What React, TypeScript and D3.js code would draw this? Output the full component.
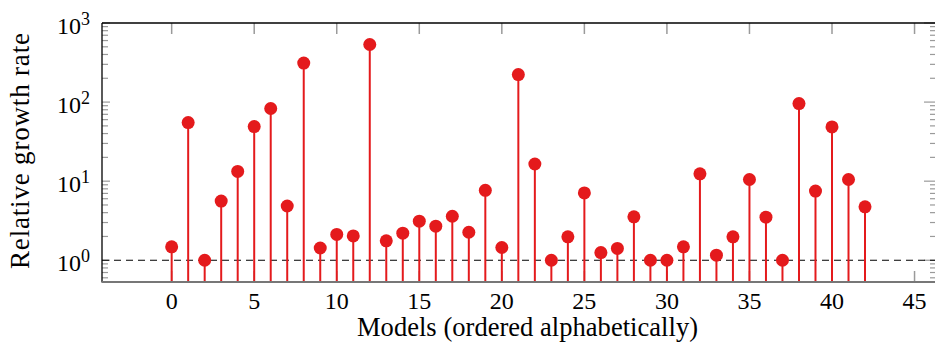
import React from 'react';
import * as d3 from 'd3';

// relative growth rate per model, index = position in alphabetical order
const rates: number[] = [
  1.48, 55, 1.0, 5.6, 13.3, 49, 83, 4.85, 311, 1.43,
  2.12, 2.03, 535, 1.76, 2.2, 3.12, 2.7, 3.6, 2.26, 7.65,
  1.45, 223, 16.5, 1.0, 1.98, 7.1, 1.25, 1.41, 3.54, 1.0,
  1.0, 1.48, 12.4, 1.16, 1.98, 10.5, 3.51, 1.0, 95.7, 7.5,
  48.5, 10.5, 4.74,
];
const xTicks: number[] = [0, 5, 10, 15, 20, 25, 30, 35, 40, 45];
const yExponents: number[] = [0, 1, 2, 3];
const xLabel = 'Models (ordered alphabetically)';
const yLabel = 'Relative growth rate';

const W = 935;
const H = 349;
const margin = { top: 23, right: -1, bottom: 67, left: 102 };
const red = '#e41a1c';
const tickGrey = '#9a9a9a';
const serif = 'Liberation Serif';

const App: React.FC = () => {
  const x = d3
    .scaleLinear()
    .domain([-4.22, 46.3])
    .range([margin.left, W - margin.right]);
  const y = d3
    .scaleLog()
    .domain([0.531, 1000])
    .range([H - margin.bottom, margin.top]);

  const bottom = H - margin.bottom;
  const left = margin.left;
  const right = W - margin.right;
  const top = margin.top;

  const minor: number[] = [];
  for (let e = -1; e < 3; e++) {
    for (let m = 2; m <= 9; m++) {
      const v = m * Math.pow(10, e);
      if (v >= 0.531 && v <= 1000) minor.push(v);
    }
  }

  return (
    <svg
      width={W}
      height={H}
      fontFamily={serif}
      style={{ position: 'fixed', left: 0, top: 0, background: '#fff' }}
    >
      {/* minor y ticks, both sides */}
      {minor.map((v) => (
        <g key={'m' + v} stroke={tickGrey} strokeWidth={1.2}>
          <line x1={left} x2={left + 6} y1={y(v)} y2={y(v)} />
          <line x1={right} x2={right - 6} y1={y(v)} y2={y(v)} />
        </g>
      ))}
      {yExponents.map((e) => (
        <g key={'M' + e} stroke={tickGrey} strokeWidth={1.2}>
          <line x1={left} x2={left + 8} y1={y(10 ** e)} y2={y(10 ** e)} />
          <line x1={right} x2={right - 12} y1={y(10 ** e)} y2={y(10 ** e)} />
        </g>
      ))}
      {/* x ticks top & bottom */}
      {xTicks.map((t) => (
        <g key={'x' + t} stroke={tickGrey} strokeWidth={1.5}>
          <line x1={x(t)} x2={x(t)} y1={top} y2={top + 11} />
          <line x1={x(t)} x2={x(t)} y1={bottom} y2={bottom - 11} />
        </g>
      ))}

      {/* reference line at 1 */}
      <line
        x1={left}
        x2={right}
        y1={y(1)}
        y2={y(1)}
        stroke="#000"
        strokeWidth={1.2}
        strokeDasharray="7,5"
      />

      {/* stems */}
      {rates.map((v, i) => (
        <g key={'s' + i}>
          <line x1={x(i)} x2={x(i)} y1={bottom} y2={y(v)} stroke={red} strokeWidth={2} />
          <circle cx={x(i)} cy={y(v)} r={6.5} fill={red} />
        </g>
      ))}

      {/* frame */}
      <line x1={left} x2={right} y1={top} y2={top} stroke="#000" strokeWidth={1.3} />
      <line x1={left} x2={left} y1={top} y2={bottom} stroke="#000" strokeWidth={1.3} />
      <line x1={left - 0.6} x2={right} y1={bottom} y2={bottom} stroke="#777" strokeWidth={2} />

      {/* tick labels */}
      {xTicks.map((t) => (
        <text key={'xl' + t} x={x(t)} y={bottom + 26.5} textAnchor="middle" fontSize={24} fill="#000" fontFamily={serif}>
          {t}
        </text>
      ))}
      {yExponents.map((e) => (
        <text key={'yl' + e} x={left - 12} y={y(10 ** e) + 11} textAnchor="end" fontSize={24} fill="#000" fontFamily={serif}>
          10
          <tspan dy={-9} fontSize={18}>
            {e}
          </tspan>
        </text>
      ))}

      {/* axis labels */}
      <text
        x={527.5}
        y={336}
        textAnchor="middle"
        fontSize={26.5}
        fill="#000"
        fontFamily={serif}
        textLength={341}
        lengthAdjust="spacing"
      >
        {xLabel}
      </text>
      <text
        transform={`translate(${29},${151}) rotate(-90)`}
        textAnchor="middle"
        fontSize={27}
        fill="#000"
        fontFamily={serif}
        textLength={236}
        lengthAdjust="spacing"
      >
        {yLabel}
      </text>
    </svg>
  );
};

export default App;
